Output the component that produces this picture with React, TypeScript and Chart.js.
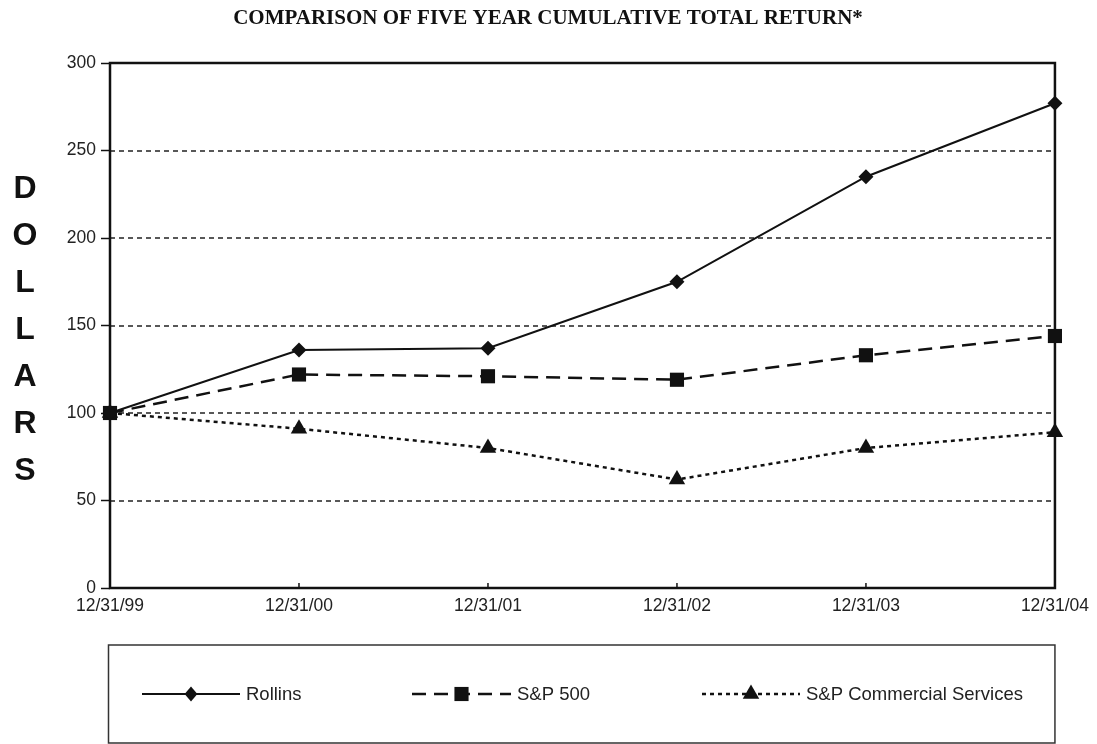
import React, { useEffect, useRef } from 'react';
import { Chart, registerables } from 'chart.js';

Chart.register(...registerables);

// ---- data ----
const TITLE = 'COMPARISON OF FIVE YEAR CUMULATIVE TOTAL RETURN*';
const AXIS_TITLE = 'DOLLARS';
const LABELS = ['12/31/99', '12/31/00', '12/31/01', '12/31/02', '12/31/03', '12/31/04'];
const ROLLINS = [100, 136, 137, 175, 235, 277];
const SP500 = [100, 122, 121, 119, 133, 144];
const COMMERCIAL = [100, 91, 80, 62, 80, 89];
const Y_TICKS = [0, 50, 100, 150, 200, 250, 300];
const SERIES_NAMES = ['Rollins', 'S&P 500', 'S&P Commercial Services'];

const INK = '#111';
const SANS = '"Liberation Sans", Arial, sans-serif';
const SERIF = '"Liberation Serif", "Times New Roman", serif';

function drawMarker(ctx: CanvasRenderingContext2D, style: string, x: number, y: number, r: number) {
  ctx.beginPath();
  if (style === 'rectRot') {
    ctx.moveTo(x, y - r);
    ctx.lineTo(x + r * 0.85, y);
    ctx.lineTo(x, y + r);
    ctx.lineTo(x - r * 0.85, y);
  } else if (style === 'rect') {
    const s = r * Math.SQRT1_2;
    ctx.rect(x - s, y - s, 2 * s, 2 * s);
  } else {
    for (let k = 0; k < 3; k++) {
      const ang = -Math.PI / 2 + (k * 2 * Math.PI) / 3;
      const px = x + Math.cos(ang) * r;
      const py = y + Math.sin(ang) * r;
      if (k === 0) ctx.moveTo(px, py);
      else ctx.lineTo(px, py);
    }
  }
  ctx.closePath();
  ctx.fill();
}

const LEGEND_SLOTS = [
  { x1: 142, x2: 240, tx: 246 },
  { x1: 412, x2: 511, tx: 517 },
  { x1: 702, x2: 800, tx: 806 },
];

const decorPlugin = {
  id: 'decor',
  beforeDatasetsDraw(chart: any) {
    const { ctx, chartArea: a, scales } = chart;
    const ys = scales.y;
    const xs = scales.x;
    ctx.save();
    // dotted horizontal grid lines
    ctx.strokeStyle = '#222';
    ctx.lineWidth = 1.5;
    ctx.setLineDash([5, 4]);
    ys.ticks.forEach((t: any) => {
      if (t.value <= ys.min || t.value >= ys.max) return;
      const py = Math.round(ys.getPixelForValue(t.value));
      ctx.beginPath();
      ctx.moveTo(a.left, py);
      ctx.lineTo(a.right, py);
      ctx.stroke();
    });
    ctx.setLineDash([]);
    // small inward tick marks on the category axis
    ctx.strokeStyle = INK;
    ctx.lineWidth = 1.5;
    LABELS.forEach((_, i) => {
      const px = xs.getPixelForValue(i);
      ctx.beginPath();
      ctx.moveTo(px, a.bottom);
      ctx.lineTo(px, a.bottom - 5);
      ctx.stroke();
    });
    // plot frame
    ctx.lineWidth = 2.5;
    ctx.strokeRect(a.left, a.top, a.right - a.left, a.bottom - a.top);
    ctx.restore();
  },
  afterDraw(chart: any) {
    const { ctx, chartArea: a } = chart;
    ctx.save();
    // title
    ctx.fillStyle = INK;
    ctx.font = `bold 21px ${SERIF}`;
    ctx.textAlign = 'center';
    ctx.textBaseline = 'alphabetic';
    ctx.fillText(TITLE, 548, 24);
    // stacked axis title
    ctx.font = `bold 32px ${SANS}`;
    AXIS_TITLE.split('').forEach((ch, i) => {
      ctx.fillText(ch, 25, 186 + i * 47 + 11.5);
    });
    // legend box
    const top = 645;
    const bottom = 743;
    ctx.strokeStyle = '#333';
    ctx.lineWidth = 1.5;
    ctx.strokeRect(a.left - 1.5, top, a.right - a.left + 1.5, bottom - top);
    const rowY = 694;
    chart.data.datasets.forEach((ds: any, i: number) => {
      const slot = LEGEND_SLOTS[i];
      ctx.strokeStyle = ds.borderColor;
      ctx.lineWidth = ds.borderWidth;
      ctx.setLineDash(ds.borderDash || []);
      ctx.beginPath();
      ctx.moveTo(slot.x1, rowY);
      ctx.lineTo(slot.x2, rowY);
      ctx.stroke();
      ctx.setLineDash([]);
      ctx.fillStyle = ds.pointBackgroundColor;
      drawMarker(ctx, ds.pointStyle, (slot.x1 + slot.x2) / 2, rowY, ds.pointRadius);
      ctx.fillStyle = '#222';
      ctx.font = `18.5px ${SANS}`;
      ctx.textAlign = 'left';
      ctx.textBaseline = 'middle';
      ctx.fillText(ds.label, slot.tx, rowY + 1);
    });
    ctx.restore();
  },
};

export default function App() {
  const canvasRef = useRef<HTMLCanvasElement | null>(null);

  useEffect(() => {
    document.body.style.margin = '0';
    const canvas = canvasRef.current;
    if (!canvas) return;
    const chart = new Chart(canvas, {
      type: 'line',
      data: {
        labels: LABELS,
        datasets: [
          {
            label: SERIES_NAMES[0],
            data: ROLLINS,
            borderColor: INK,
            borderWidth: 2,
            borderDash: [],
            pointStyle: 'rectRot',
            pointRadius: 7.5,
            pointBackgroundColor: INK,
            pointBorderWidth: 0,
            tension: 0,
            clip: false,
          },
          {
            label: SERIES_NAMES[1],
            data: SP500,
            borderColor: INK,
            borderWidth: 2.5,
            borderDash: [14, 8],
            pointStyle: 'rect',
            pointRadius: 10,
            pointBackgroundColor: INK,
            pointBorderWidth: 0,
            tension: 0,
            clip: false,
          },
          {
            label: SERIES_NAMES[2],
            data: COMMERCIAL,
            borderColor: INK,
            borderWidth: 2.5,
            borderDash: [4, 4],
            pointStyle: 'triangle',
            pointRadius: 9.5,
            pointBackgroundColor: INK,
            pointBorderWidth: 0,
            tension: 0,
            clip: false,
          },
        ] as any,
      },
      options: {
        responsive: false,
        animation: false,
        layout: { padding: { left: 50, right: 40, top: 63, bottom: 126 } },
        plugins: {
          legend: { display: false },
          title: { display: false },
          tooltip: { enabled: false },
        },
        scales: {
          x: {
            type: 'category',
            offset: false,
            grid: { display: false, drawTicks: false },
            border: { display: false },
            ticks: {
              color: '#222',
              font: { family: SANS, size: 17.5 },
              padding: 8,
              maxRotation: 0,
              autoSkip: false,
            },
            afterFit: (s: any) => {
              s.height = 30;
            },
          },
          y: {
            min: 0,
            max: 300,
            afterBuildTicks: (s: any) => {
              s.ticks = Y_TICKS.map((v) => ({ value: v }));
            },
            grid: {
              display: true,
              drawOnChartArea: false,
              drawTicks: true,
              tickLength: 9,
              tickColor: INK,
              tickWidth: 1.5,
            },
            border: { display: false },
            ticks: {
              color: '#222',
              font: { family: SANS, size: 17.5 },
              padding: 5,
            },
            afterFit: (s: any) => {
              s.width = 60;
            },
          },
        },
      } as any,
      plugins: [decorPlugin],
    });
    return () => chart.destroy();
  }, []);

  return (
    <div style={{ position: 'absolute', left: 0, top: 0, width: 1097, height: 744, background: '#fff' }}>
      <canvas ref={canvasRef} width={1097} height={744} style={{ width: 1097, height: 744, display: 'block' }} />
    </div>
  );
}
